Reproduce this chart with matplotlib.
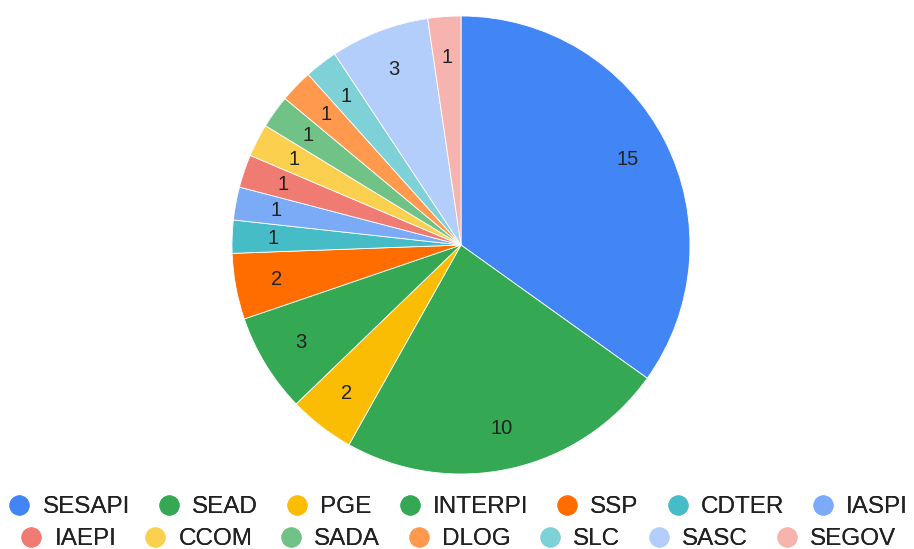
import matplotlib.pyplot as plt
from matplotlib.lines import Line2D

plt.rcParams['font.family'] = ['Liberation Sans', 'DejaVu Sans']

categories = ['SESAPI', 'SEAD', 'PGE', 'INTERPI', 'SSP', 'CDTER', 'IASPI',
              'IAEPI', 'CCOM', 'SADA', 'DLOG', 'SLC', 'SASC', 'SEGOV']
values = [15, 10, 2, 3, 2, 1, 1, 1, 1, 1, 1, 1, 3, 1]
colors = ['#4285F4', '#34A853', '#FBBC04', '#34A853', '#FF6D01', '#46BDC6', '#7BAAF7',
          '#F07B72', '#FCD04F', '#71C287', '#FF994D', '#7ED1D7', '#B3CEFB', '#F7B4AE']

total = sum(values)

fig = plt.figure(figsize=(9.14, 5.49), dpi=100)
W, H = 914, 549
cx, cy, r = 461, 245, 229
ax = fig.add_axes([(cx - r) / W, (H - cy - r) / H, 2 * r / W, 2 * r / H])

wedges, texts, autotexts = ax.pie(
    values, colors=colors, startangle=90, counterclock=False, radius=1,
    autopct=lambda p: '%d' % round(p * total / 100), pctdistance=0.82,
    wedgeprops=dict(edgecolor='white', linewidth=0.6),
    textprops=dict(fontsize=14.5, color='#222222'))
ax.set_xlim(-1, 1)
ax.set_ylim(-1, 1)
ax.set_aspect('equal')
ax.axis('off')

# legend in two centered rows
def handles(idx):
    return [Line2D([], [], linestyle='none', marker='o', markersize=13.5,
                   markerfacecolor=colors[i], markeredgecolor=colors[i]) for i in idx]

rows = [(range(0, 7), (H - 507) / H), (range(7, 14), (H - 539) / H)]
for idx, y in rows:
    leg = fig.legend(handles(idx), [categories[i] for i in idx], loc='center',
                     bbox_to_anchor=(0.502, y), ncol=7, frameon=False,
                     fontsize=17.5, handlelength=0.8, handletextpad=0.55,
                     columnspacing=1.2, borderpad=0, borderaxespad=0)
    for t in leg.get_texts():
        t.set_color('#222222')
    fig.add_artist(leg)

fig.savefig('out.png', dpi=100)
